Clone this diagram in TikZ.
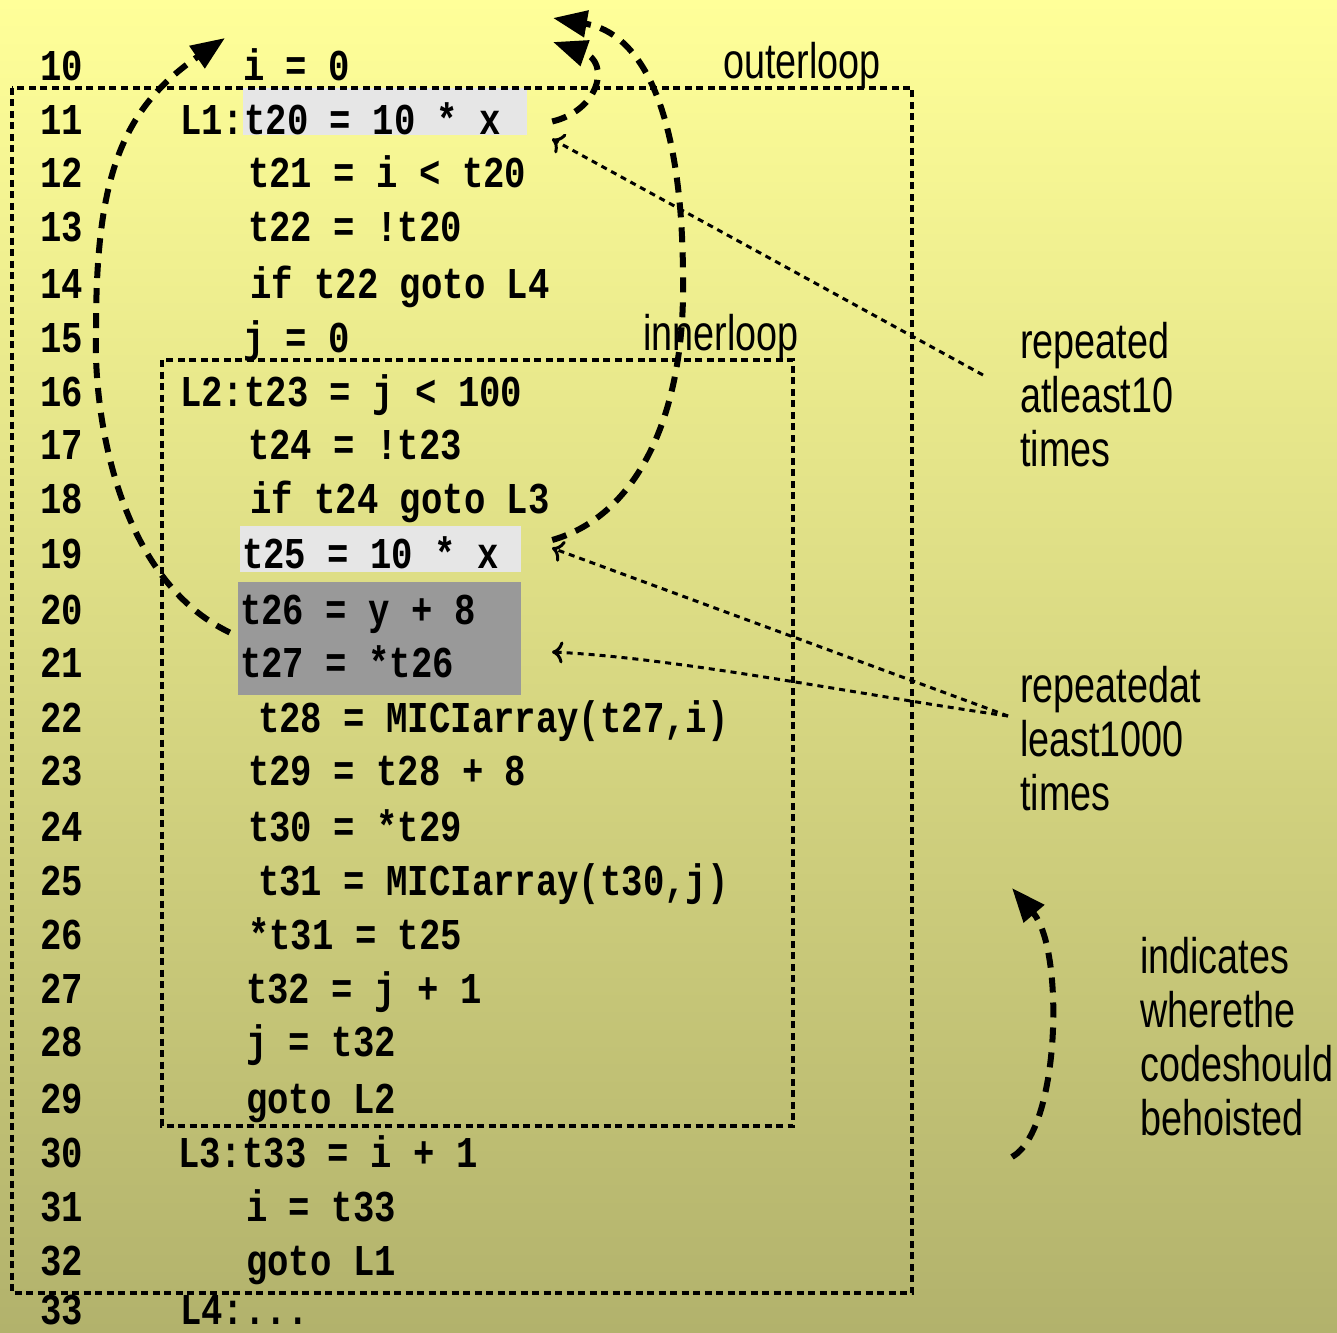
\documentclass[tikz,border=0pt]{standalone}
\usepackage{fontspec}
\usetikzlibrary{arrows.meta}
\newfontfamily\codefont[FakeStretch=0.81]{Liberation Mono Bold}
\newfontfamily\labfont[FakeStretch=0.755]{Liberation Sans}
\definecolor{bgtop}{RGB}{255,255,153}
\definecolor{bgbot}{RGB}{178,178,108}
\definecolor{hlight}{RGB}{230,230,230}
\definecolor{hdark}{RGB}{153,153,153}
\begin{document}
\begin{tikzpicture}[x=1pt,y=-1pt,
  code/.style={anchor=base west,inner sep=0pt,font=\codefont\fontsize{44}{44}\selectfont},
  lab/.style={anchor=base west,inner sep=0pt,font=\labfont\fontsize{50}{54}\selectfont},
  hlbox/.style={draw=none,inner sep=0pt},
  dotbox/.style={line width=3.2pt,dash pattern=on 7pt off 4.5pt},
  thinarrow/.style={line width=3pt,dash pattern=on 6pt off 5pt,-{To[length=11pt,width=22pt]}},
  bigarrow/.style={line width=6pt,dash pattern=on 15pt off 10pt,-{Triangle[length=34pt,width=26pt]}}]
\shade[top color=bgtop,bottom color=bgbot] (0,0) rectangle (1337,1332);
\useasboundingbox (0,0) rectangle (1337,1332);
% highlight boxes
\node[hlbox,fill=hlight,minimum width=284pt,minimum height=47pt] (hl11) at (385,111.5) {};
\node[hlbox,fill=hlight,minimum width=281pt,minimum height=46pt] (hl19) at (380.5,549) {};
\node[hlbox,fill=hdark,minimum width=283pt,minimum height=113pt] (dk) at (379.5,638.5) {};
% loop boxes
\draw[dotbox] (12,88) rectangle (912,1293);
\draw[dotbox] (162,360) rectangle (793,1126);
\node[lab] (outer) at (723,79) {outerloop};
\node[lab] (inner) at (643,350) {innerloop};
% line numbers and code: number / baseline / indent / text
\foreach \k/\b/\x/\t in {
  10/80.5/243/{i = 0},
  11/134.5/180/{L1:t20 = 10 * x},
  12/187.5/248/{t21 = i < t20},
  13/241.5/248/{t22 = !t20},
  14/298.5/250/{if t22 goto L4},
  15/352/243/{j = 0},
  16/406/180/{L2:t23 = j < 100},
  17/459.5/248/{t24 = !t23},
  18/513.5/250/{if t24 goto L3},
  19/568/242/{t25 = 10 * x},
  20/624/240/{t26 = y + 8},
  21/677.5/240/{t27 = *t26},
  22/732/258/{t28 = MICIarray(t27,i)},
  23/785.5/248/{t29 = t28 + 8},
  24/841/248/{t30 = *t29},
  25/895/258/{t31 = MICIarray(t30,j)},
  26/949/248/{*t31 = t25},
  27/1003/246/{t32 = j + 1},
  28/1056.5/246/{j = t32},
  29/1113/246/{goto L2},
  30/1167/178/{L3:t33 = i + 1},
  31/1221/246/{i = t33},
  32/1275/246/{goto L1},
  33/1324/180/{L4:...}}{
  \node[code] (n\k) at (40,\b) {\k};
  \node[code] (c\k) at (\x,\b) {\t};
}
% labels
\node[lab] (ra1) at (1020,358) {repeated};
\node[lab] (ra2) at (1020,412) {atleast10};
\node[lab] (ra3) at (1020,466) {times};
\node[lab] (rb1) at (1020,702) {repeatedat};
\node[lab] (rb2) at (1020,756) {least1000};
\node[lab] (rb3) at (1020,810) {times};
\node[lab] (ia1) at (1140,973) {indicates};
\node[lab] (ia2) at (1140,1027) {wherethe};
\node[lab] (ia3) at (1140,1081) {codeshould};
\node[lab] (ia4) at (1140,1135) {behoisted};
% coordinates
\coordinate (s11) at ([xshift=25pt,yshift=-10pt]hl11.east);
\coordinate (s19) at ([xshift=31pt,yshift=9pt]hl19.east);
\coordinate (s20) at ([xshift=-8pt,yshift=6pt]dk.west);
\coordinate (lm) at (96,330);
\coordinate (lt) at (225,38);
\coordinate (bm) at (683,280);
\coordinate (bt) at (553,18);
\coordinate (st) at (553,42);
\coordinate (r1) at (983,375);
\coordinate (r2) at (1008,716);
\coordinate (e11) at (552,139);
\coordinate (e19) at (552,548);
\coordinate (e21) at (552,652);
\coordinate (h0) at (1012,1157);
\coordinate (h1) at (1012,888);
% thin dotted arrows
\draw[thinarrow] (r1) -- (e11);
\draw[thinarrow] (r2) -- (e19);
\draw[thinarrow] (r2) .. controls (860,695) and (680,658) .. (e21);
% big dashed arrows
\draw[bigarrow] (s20) .. controls (120,580) and (93,420) .. (lm) .. controls (96,180) and (120,110) .. (lt);
\draw[bigarrow] (s19) .. controls (640,515) and (685,410) .. (bm) .. controls (683,130) and (650,35) .. (bt);
\draw[bigarrow] (s11) .. controls (600,110) and (610,62) .. (st);
\draw[bigarrow] (h0) .. controls (1060,1130) and (1065,950) .. (h1);
\end{tikzpicture}
\end{document}
